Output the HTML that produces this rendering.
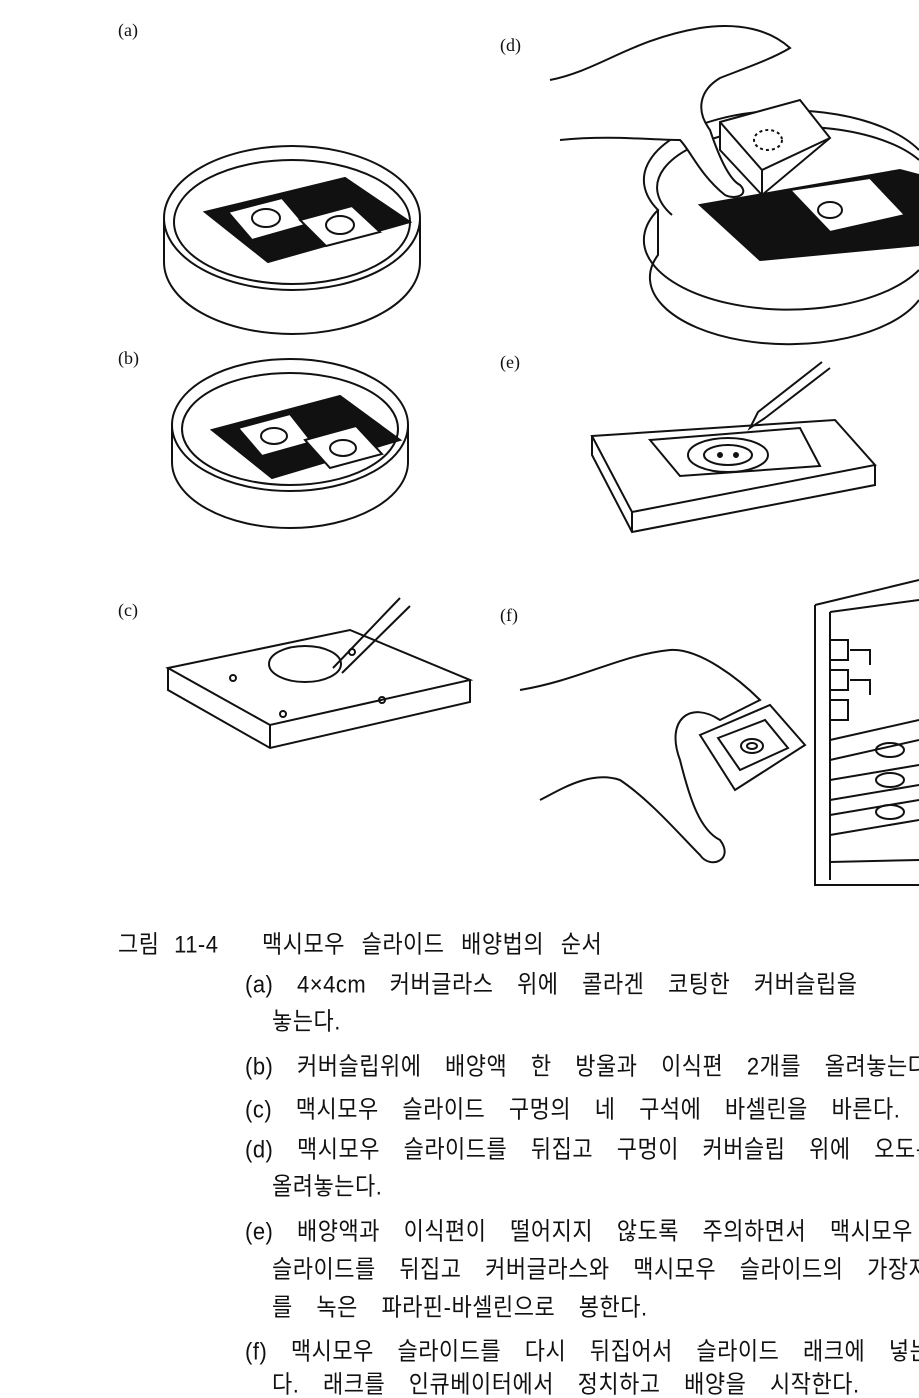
<!DOCTYPE html>
<html><head><meta charset="utf-8"><style>
html,body{margin:0;padding:0;background:#fff;width:919px;height:1398px;overflow:hidden;position:relative}
.t{position:absolute;white-space:nowrap;font-family:"Liberation Sans","Noto Sans CJK KR",sans-serif;font-size:22px;line-height:28px;color:#111;word-spacing:17px;letter-spacing:0.5px;transform:scaleY(1.1);transform-origin:left center}
.l{position:absolute;font-family:"Liberation Serif",serif;font-size:18px;color:#111}
svg{position:absolute;left:0;top:0}
</style></head><body>
<svg width="919" height="1398" viewBox="0 0 919 1398" fill="none" stroke="#111" stroke-width="2">
<path d="M164 218 L164 262 A128 72 0 0 0 420 262 L420 218"/>
<ellipse cx="292" cy="218" rx="128" ry="72" fill="#fff"/>
<ellipse cx="292" cy="222" rx="118" ry="62"/>
<polygon points="205,212 345,178 410,222 268,262" fill="#111"/>
<polygon points="228,212 282,198 305,225 252,240" fill="#fff"/>
<polygon points="300,220 352,206 380,232 326,246" fill="#fff"/>
<ellipse cx="266" cy="218" rx="14" ry="9"/>
<ellipse cx="340" cy="225" rx="14" ry="9"/>
<path d="M172 425 L172 462 A118 66 0 0 0 408 462 L408 425"/>
<ellipse cx="290" cy="425" rx="118" ry="66" fill="#fff"/>
<ellipse cx="290" cy="429" rx="108" ry="56"/>
<polygon points="212,430 340,396 400,440 272,478" fill="#111"/>
<polygon points="238,428 290,414 312,442 262,456" fill="#fff"/>
<polygon points="305,440 356,426 382,454 330,468" fill="#fff"/>
<ellipse cx="274" cy="436" rx="13" ry="8"/><ellipse cx="343" cy="448" rx="13" ry="8"/>
<polygon points="168,668 350,630 470,680 270,725" fill="#fff"/>
<path d="M168 668 L168 690 L270 748 L470 702 L470 680 M270 725 L270 748"/>
<ellipse cx="305" cy="664" rx="36" ry="18"/>
<circle cx="233" cy="678" r="3"/><circle cx="283" cy="714" r="3"/><circle cx="382" cy="700" r="3"/><circle cx="352" cy="652" r="3"/>
<path d="M400 598 L333 668 M410 606 L342 673"/>
<path d="M658 210 L658 255 A135 65 0 0 0 919 300"/>
<path d="M919 150 A135 65 0 0 0 658 210 A135 65 0 0 0 919 270"/>
<path d="M672 215 A125 55 0 0 1 919 160"/>
<polygon points="700,205 900,170 919,175 919,245 760,260" fill="#111"/>
<polygon points="790,190 870,178 905,215 830,232" fill="#fff"/>
<ellipse cx="830" cy="210" rx="12" ry="8"/>
<polygon points="720,122 800,100 830,138 762,195 720,150" fill="#fff"/>
<path d="M720 122 L762 170 L830 138 M762 170 L762 195"/>
<ellipse cx="768" cy="140" rx="14" ry="10" stroke-dasharray="3 3"/>
<path d="M550 80 C600 70 630 40 700 28 C740 22 770 30 790 48 C770 60 740 70 720 78 C700 90 695 110 710 130 C720 160 730 180 740 185 C750 195 735 200 725 195 C700 175 690 150 680 140 C650 140 610 135 560 140" fill="#fff"/>
<polygon points="592,436 835,420 875,465 632,512" fill="#fff"/>
<path d="M592 436 L592 455 L632 532 L875 485 L875 465 M632 512 L632 532"/>
<polygon points="650,440 800,428 820,466 680,476"/>
<ellipse cx="728" cy="455" rx="40" ry="17"/><ellipse cx="728" cy="455" rx="24" ry="10"/>
<circle cx="720" cy="455" r="2" fill="#111"/><circle cx="736" cy="455" r="2" fill="#111"/>
<path d="M830 368 L765 418 M822 362 L758 412 L750 428 L765 418"/>
<path d="M815 605 L919 580 M815 605 L815 885 L919 885 M830 612 L830 880 M919 600 L830 612 M919 860 L830 862"/>
<path d="M830 640 h18 v20 h-18 M830 670 h18 v20 h-18 M830 700 h18 v20 h-18 M850 650 h20 v15 M850 680 h20 v15"/>
<path d="M830 740 L919 720 M830 760 L919 740 M830 780 L919 765 M830 800 L919 785 M830 815 L919 800 M830 835 L919 820"/>
<ellipse cx="890" cy="750" rx="14" ry="7"/><ellipse cx="890" cy="780" rx="14" ry="7"/><ellipse cx="890" cy="812" rx="14" ry="7"/>
<path d="M520 690 C580 680 620 655 670 650 C700 648 740 680 760 700 L720 720 C690 700 665 720 680 760 C690 800 700 830 720 840 C735 860 710 870 700 855 C680 835 650 800 620 780 C590 770 560 790 540 800" fill="#fff"/>
<polygon points="700,735 770,705 805,745 735,790" fill="#fff"/>
<polygon points="718,738 765,720 788,748 740,770"/>
<ellipse cx="752" cy="746" rx="11" ry="7"/><ellipse cx="752" cy="746" rx="5" ry="3"/>
</svg>
<div class="l" style="left:118px;top:20px">(a)</div>
<div class="l" style="left:500px;top:35px">(d)</div>
<div class="l" style="left:118px;top:348px">(b)</div>
<div class="l" style="left:500px;top:352px">(e)</div>
<div class="l" style="left:118px;top:600px">(c)</div>
<div class="l" style="left:500px;top:605px">(f)</div>
<div class="t" style="left:118px;top:931px;word-spacing:8px">그림 11-4</div>
<div class="t" style="left:262px;top:931px;word-spacing:10px">맥시모우 슬라이드 배양법의 순서</div>
<div class="t" style="left:245px;top:971px">(a) 4×4cm 커버글라스 위에 콜라겐 코팅한 커버슬립을</div>
<div class="t" style="left:272px;top:1008px">놓는다.</div>
<div class="t" style="left:245px;top:1053px">(b) 커버슬립위에 배양액 한 방울과 이식편 2개를 올려놓는다.</div>
<div class="t" style="left:245px;top:1096px">(c) 맥시모우 슬라이드 구멍의 네 구석에 바셀린을 바른다.</div>
<div class="t" style="left:245px;top:1136px">(d) 맥시모우 슬라이드를 뒤집고 구멍이 커버슬립 위에 오도록</div>
<div class="t" style="left:272px;top:1173px">올려놓는다.</div>
<div class="t" style="left:245px;top:1218px">(e) 배양액과 이식편이 떨어지지 않도록 주의하면서 맥시모우</div>
<div class="t" style="left:272px;top:1256px">슬라이드를 뒤집고 커버글라스와 맥시모우 슬라이드의 가장자리</div>
<div class="t" style="left:272px;top:1294px">를 녹은 파라핀-바셀린으로 봉한다.</div>
<div class="t" style="left:245px;top:1338px">(f) 맥시모우 슬라이드를 다시 뒤집어서 슬라이드 래크에 넣는</div>
<div class="t" style="left:272px;top:1371px">다. 래크를 인큐베이터에서 정치하고 배양을 시작한다.</div>
</body></html>
